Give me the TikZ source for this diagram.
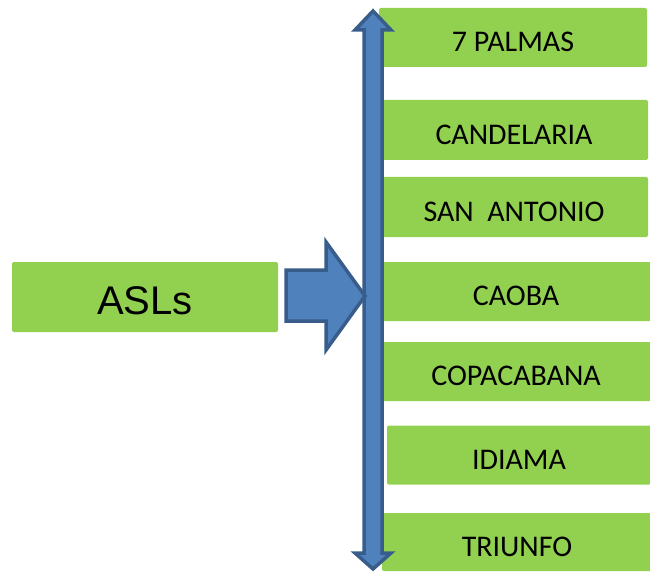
\documentclass[tikz,border=0pt]{standalone}
\usepackage{fontspec}
\setmainfont{Carlito}
\newfontfamily\aslfont{Liberation Sans}
\definecolor{boxgreen}{HTML}{92D050}
\definecolor{arrowfill}{HTML}{4F81BD}
\definecolor{arrowline}{HTML}{385D8A}
\begin{document}
\begin{tikzpicture}[x=1pt,y=-1pt,
  sitebox/.style={fill=boxgreen, rounded corners=2pt, inner sep=0pt,
    font=\fontsize{30}{34}\selectfont, text=black,
    text height=28.5pt, text depth=0pt},
  blockarrow/.style={fill=arrowfill, draw=arrowline, line width=3.5pt, line join=miter}]
\useasboundingbox (0,0) rectangle (650,572);

% source box
\node[sitebox, minimum width=266pt, minimum height=70pt,
  font=\aslfont\fontsize{40}{44}\selectfont,
  text height=35pt] (asl) at (145,297) {ASLs};

% destination boxes
\node[sitebox, minimum width=268pt, minimum height=59pt] (p7)  at (513,37.5)  {7 PALMAS};
\node[sitebox, minimum width=268pt, minimum height=60pt] (can) at (514,130)   {CANDELARIA};
\node[sitebox, minimum width=268pt, minimum height=60pt] (san) at (514,207)   {SAN\ \ ANTONIO};
\node[sitebox, minimum width=270pt, minimum height=59pt] (cao) at (516,291.5) {CAOBA};
\node[sitebox, minimum width=270pt, minimum height=59pt] (cop) at (516,371.5) {COPACABANA};
\node[sitebox, minimum width=264pt, minimum height=59pt] (idi) at (519,455)   {IDIAMA};
\node[sitebox, minimum width=270pt, minimum height=58pt] (tri) at (517,542)   {TRIUNFO};

% vertical double block arrow
\draw[blockarrow] (373,11) -- (391,30) -- (382,30) -- (382,553) -- (391,553)
  -- (373,569) -- (355,553) -- (364,553) -- (364,30) -- (355,30) -- cycle;

% block arrow from the source box to the bar
\draw[blockarrow] (286,270) -- (326,270) -- (326,242) -- (365,296)
  -- (326,350) -- (326,321) -- (286,321) -- cycle;
\end{tikzpicture}
\end{document}
